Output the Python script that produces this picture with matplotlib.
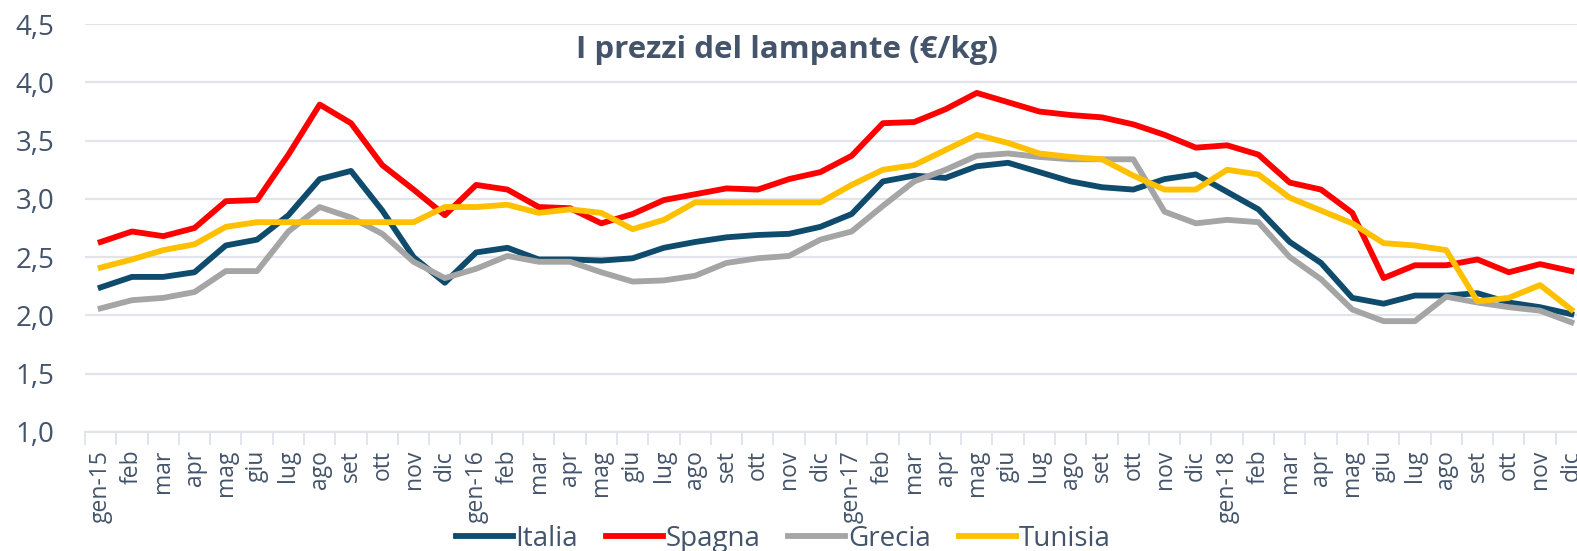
import numpy as np
import matplotlib
matplotlib.use("Agg")
import matplotlib.pyplot as plt

plt.rcParams['font.family'] = ['Open Sans', 'DejaVu Sans']

# mesi gen-15 .. dic-18
mesi = ['gen', 'feb', 'mar', 'apr', 'mag', 'giu', 'lug', 'ago', 'set', 'ott', 'nov', 'dic']
etichette = []
for anno in ['15', '16', '17', '18']:
    for m in mesi:
        etichette.append(m + '-' + anno if m == 'gen' else m)

italia = [2.24, 2.33, 2.33, 2.37, 2.60, 2.65, 2.86, 3.17, 3.24, 2.90, 2.50, 2.28,
          2.54, 2.58, 2.48, 2.48, 2.47, 2.49, 2.58, 2.63, 2.67, 2.69, 2.70, 2.76,
          2.87, 3.15, 3.20, 3.18, 3.28, 3.31, 3.23, 3.15, 3.10, 3.08, 3.17, 3.21,
          3.06, 2.91, 2.63, 2.45, 2.15, 2.10, 2.17, 2.17, 2.19, 2.11, 2.07, 2.01]
spagna = [2.63, 2.72, 2.68, 2.75, 2.98, 2.99, 3.38, 3.81, 3.65, 3.29, 3.08, 2.86,
          3.12, 3.08, 2.93, 2.92, 2.79, 2.87, 2.99, 3.04, 3.09, 3.08, 3.17, 3.23,
          3.37, 3.65, 3.66, 3.77, 3.91, 3.83, 3.75, 3.72, 3.70, 3.64, 3.55, 3.44,
          3.46, 3.38, 3.14, 3.08, 2.88, 2.32, 2.43, 2.43, 2.48, 2.37, 2.44, 2.38]
grecia = [2.06, 2.13, 2.15, 2.20, 2.38, 2.38, 2.72, 2.93, 2.84, 2.70, 2.46, 2.32,
          2.40, 2.51, 2.46, 2.46, 2.37, 2.29, 2.30, 2.34, 2.45, 2.49, 2.51, 2.65,
          2.72, 2.94, 3.15, 3.25, 3.37, 3.39, 3.36, 3.34, 3.34, 3.34, 2.89, 2.79,
          2.82, 2.80, 2.50, 2.31, 2.05, 1.95, 1.95, 2.16, 2.11, 2.07, 2.04, 1.94]
tunisia = [2.41, 2.48, 2.56, 2.61, 2.76, 2.80, 2.80, 2.80, 2.80, 2.80, 2.80, 2.93,
           2.93, 2.95, 2.88, 2.91, 2.88, 2.74, 2.82, 2.97, 2.97, 2.97, 2.97, 2.97,
           3.12, 3.25, 3.29, 3.42, 3.55, 3.48, 3.39, 3.36, 3.34, 3.20, 3.08, 3.08,
           3.25, 3.21, 3.01, 2.90, 2.79, 2.62, 2.60, 2.56, 2.12, 2.15, 2.26, 2.05]

serie = ['Italia', 'Spagna', 'Grecia', 'Tunisia']
colori = ['#0E4B6C', '#FF0000', '#A5A5A5', '#FFC000']
testo = '#44546A'
griglia = '#E1E4EA'

W, H = 1577, 551
fig = plt.figure(figsize=(W/100, H/100), dpi=100)
# l'asse esce un po' a destra: l'ultima etichetta e' tagliata come nell'originale
ax = fig.add_axes([85/W, 1-431.8/H, 1502/W, (431.8-24.2)/H])

x = np.arange(len(etichette))
for nome, val, col in zip(serie, [italia, spagna, grecia, tunisia], colori):
    ax.plot(x, val, color=col, linewidth=4.2, label=nome)

ax.set_xlim(-0.5, len(etichette)-0.5)
ax.set_ylim(1.0, 4.5)
yt = np.arange(1.0, 4.51, 0.5)
ax.set_yticks(yt)
ax.set_yticklabels([('%.1f' % v).replace('.', ',') for v in yt])
ax.grid(axis='y', color=griglia, linewidth=1.6)
ax.set_axisbelow(True)

ax.set_xticks(x)
ax.set_xticklabels(etichette, rotation=90)
ax.set_xticks(np.arange(-0.5, len(etichette)), minor=True)
ax.tick_params(axis='x', which='major', length=0, pad=13, labelsize=16.5, labelcolor=testo)
ax.tick_params(axis='x', which='minor', length=9, width=1.4, color=griglia)
ax.tick_params(axis='y', length=0, pad=22, labelsize=20, labelcolor=testo)

for s in ['top', 'right', 'left']:
    ax.spines[s].set_visible(False)
ax.spines['bottom'].set_color(griglia)
ax.spines['bottom'].set_linewidth(1.6)

fig.text(787/W, 1-50/H, 'I prezzi del lampante (€/kg)', ha='center', va='center',
         fontsize=22.5, fontweight='bold', color=testo)

fig.legend(loc='center', bbox_to_anchor=(783/W, 1-539/H), ncol=4, frameon=False,
           fontsize=20, handlelength=2.05, handletextpad=0.1, columnspacing=1.0,
           labelcolor=testo, borderpad=0)

fig.savefig('out.png', dpi=100)
